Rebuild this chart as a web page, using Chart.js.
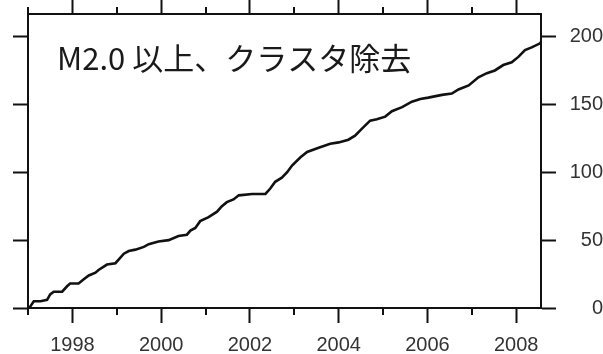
<!DOCTYPE html>
<html>
<head>
<meta charset="utf-8">
<script src="https://cdn.jsdelivr.net/npm/chart.js@4.4.0/dist/chart.umd.min.js"></script>
<style>
  html, body { margin: 0; padding: 0; background: #fff; }
  #wrap { width: 603px; height: 354px; }
</style>
</head>
<body>
<div id="wrap"><canvas id="cumChart" width="603" height="354"></canvas></div>
<script>
// cumulative count of events (M2.0+, declustered)
const eventYears = [1997.00, 1997.05, 1997.13, 1997.28, 1997.43, 1997.50, 1997.58, 1997.77, 1997.88, 1997.95,
    1998.14, 1998.25, 1998.37, 1998.52, 1998.59, 1998.78, 1998.97, 1999.16, 1999.27, 1999.42,
    1999.61, 1999.72, 1999.94, 2000.17, 2000.39, 2000.58, 2000.66, 2000.77, 2000.88, 2001.07,
    2001.26, 2001.37, 2001.48, 2001.63, 2001.75, 2002.05, 2002.35, 2002.46, 2002.57, 2002.72,
    2002.84, 2002.95, 2003.14, 2003.29, 2003.55, 2003.81, 2004.00, 2004.22, 2004.37, 2004.52,
    2004.71, 2004.86, 2005.05, 2005.20, 2005.43, 2005.65, 2005.84, 2006.02, 2006.33, 2006.55,
    2006.70, 2006.93, 2007.15, 2007.34, 2007.52, 2007.71, 2007.90, 2008.05, 2008.20, 2008.35,
    2008.54, 2008.56];
const eventCounts = [0, 1, 5, 5, 6, 10, 12, 12, 16, 18,
    18, 21, 24, 26, 28, 32, 33, 40, 42, 43,
    45, 47, 49, 50, 53, 54, 57, 59, 64, 67,
    71, 75, 78, 80, 83, 84, 84, 88, 93, 96,
    100, 105, 111, 115, 118, 121, 122, 124, 127, 132,
    138, 139, 141, 145, 148, 152, 154, 155, 157, 158,
    161, 164, 170, 173, 175, 179, 181, 185, 190, 192,
    195, 196];

const majorYears = [1998, 2000, 2002, 2004, 2006, 2008];
const minorYears = [1997, 1999, 2001, 2003, 2005, 2007];
const countTicks = [0, 50, 100, 150, 200];
const titleText = 'M2.0 以上、クラスタ除去';

const xMin = 1997, xMax = 2008.56;
const yMin = 0, yMax = 216.6;

// title inside the plot box, plus the short ticks for odd years
const extrasPlugin = {
    id: 'extras',
    afterDraw(chart) {
        const ctx = chart.ctx;
        const area = chart.chartArea;
        const xs = chart.scales.x;

        ctx.save();
        ctx.strokeStyle = '#111';
        ctx.lineWidth = 2;
        for (var i = 0; i < minorYears.length; i++) {
            const px = Math.round(xs.getPixelForValue(minorYears[i]));
            ctx.beginPath();
            ctx.moveTo(px, area.bottom);
            ctx.lineTo(px, area.bottom + 7);
            ctx.moveTo(px, area.top);
            ctx.lineTo(px, area.top - 7);
            ctx.stroke();
        }

        ctx.font = '31px "Noto Sans CJK JP"';
        ctx.fillStyle = '#1a1a1a';
        ctx.textBaseline = 'middle';
        ctx.fillText(titleText, area.left + 29, area.top + 44);
        ctx.restore();
    }
};

function setTicks(values) {
    return function(scale) {
        scale.ticks = values.map(v => ({ value: v }));
    };
}

// fixed box size, and no extra room for label overhang
function fixSize(w, h) {
    return function(scale) {
        if (w !== null) scale.width = w;
        if (h !== null) scale.height = h;
        scale.paddingTop = 0;
        scale.paddingBottom = 0;
        scale.paddingLeft = 0;
        scale.paddingRight = 0;
    };
}

const tickGrid = { drawOnChartArea: false, tickLength: 15, tickWidth: 2, tickColor: '#111' };
const axisBorder = { color: '#111', width: 2 };
const labelFont = { family: 'Liberation Sans', size: 20 };

const data = {
    datasets: [{
        data: eventYears.map((t, i) => ({ x: t, y: eventCounts[i] })),
        borderColor: '#111',
        borderWidth: 2.6,
        pointRadius: 0,
        tension: 0,
        xAxisID: 'x',
        yAxisID: 'y'
    }]
};

const config = {
    type: 'line',
    data: data,
    options: {
        responsive: false,
        animation: false,
        devicePixelRatio: 1,
        layout: { padding: 0 },
        plugins: { legend: { display: false }, tooltip: { enabled: false } },
        scales: {
            x: {
                type: 'linear', position: 'bottom', min: xMin, max: xMax,
                afterBuildTicks: setTicks(majorYears),
                afterFit: fixSize(null, 46),
                grid: tickGrid, border: axisBorder,
                ticks: { font: labelFont, color: '#333', padding: 10, maxRotation: 0, callback: v => String(v) }
            },
            xTop: {
                type: 'linear', position: 'top', min: xMin, max: xMax,
                afterBuildTicks: setTicks(majorYears),
                afterFit: fixSize(null, 14),
                grid: { drawOnChartArea: false, tickLength: 14, tickWidth: 2, tickColor: '#111' },
                border: axisBorder,
                ticks: { display: false }
            },
            y: {
                type: 'linear', position: 'right', min: yMin, max: yMax,
                afterBuildTicks: setTicks(countTicks),
                afterFit: fixSize(62, null),
                grid: tickGrid, border: axisBorder,
                ticks: { font: labelFont, color: '#333', padding: 10, crossAlign: 'far', callback: v => String(v) }
            },
            yLeft: {
                type: 'linear', position: 'left', min: yMin, max: yMax,
                afterBuildTicks: setTicks(countTicks),
                afterFit: fixSize(28, null),
                grid: tickGrid, border: axisBorder,
                ticks: { display: false }
            }
        }
    },
    plugins: [extrasPlugin]
};

const chartObj = new Chart(document.getElementById('cumChart'), config);
</script>
</body>
</html>
